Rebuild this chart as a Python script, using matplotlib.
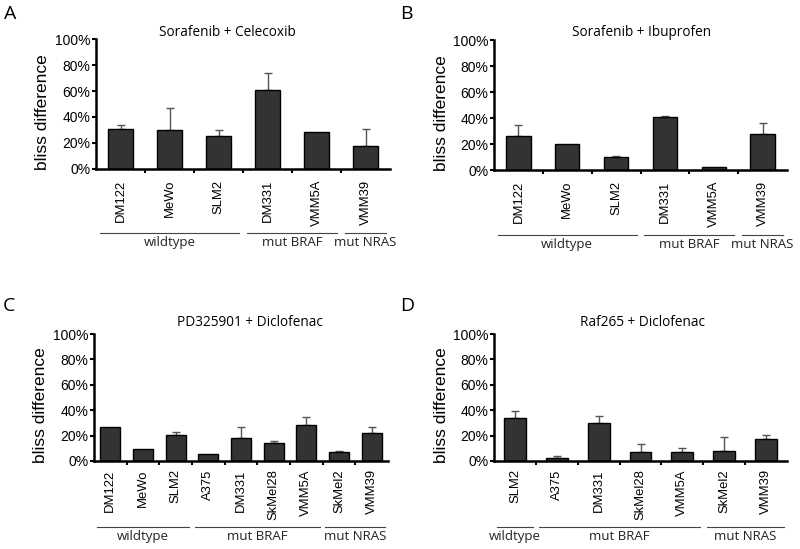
import numpy as np
import matplotlib
matplotlib.use("Agg")
import matplotlib.pyplot as plt
import matplotlib.transforms as mtransforms

plt.rcParams['font.family'] = ['Liberation Sans', 'DejaVu Sans']

# panel A: Sorafenib + Celecoxib
cells_a = ['DM122', 'MeWo', 'SLM2', 'DM331', 'VMM5A', 'VMM39']
vals_a = [31, 30, 25.5, 61, 28.5, 17.5]
err_a = [3, 17, 4.5, 12.5, 0, 13]
groups_a = [('wildtype', 0, 2), ('mut BRAF', 3, 4), ('mut NRAS', 5, 5)]

# panel B: Sorafenib + Ibuprofen
cells_b = ['DM122', 'MeWo', 'SLM2', 'DM331', 'VMM5A', 'VMM39']
vals_b = [26.5, 20, 10, 40.5, 2.5, 28]
err_b = [8, 0, 1, 1, 0, 8.5]
groups_b = [('wildtype', 0, 2), ('mut BRAF', 3, 4), ('mut NRAS', 5, 5)]

# panel C: PD325901 + Diclofenac
cells_c = ['DM122', 'MeWo', 'SLM2', 'A375', 'DM331', 'SkMel28', 'VMM5A',
           'SkMel2', 'VMM39']
vals_c = [27, 9.7, 20.5, 5.3, 18, 14.2, 28, 7.4, 22.4]
err_c = [0, 0, 2.5, 0, 9, 1.8, 6.5, 0.8, 4.5]
groups_c = [('wildtype', 0, 2), ('mut BRAF', 3, 6), ('mut NRAS', 7, 8)]

# panel D: Raf265 + Diclofenac
cells_d = ['SLM2', 'A375', 'DM331', 'SkMel28', 'VMM5A', 'SkMel2', 'VMM39']
vals_d = [34, 2, 29.7, 7.4, 7.4, 8, 17.6]
err_d = [5.5, 2, 6, 5.6, 2.6, 11, 2.7]
groups_d = [('wildtype', 0, 0), ('mut BRAF', 1, 4), ('mut NRAS', 5, 6)]

W, H = 800, 549
fig = plt.figure(figsize=(W / 100, H / 100), dpi=100)


def add_ax(left, right, top, bottom):
    return fig.add_axes([left / W, 1 - bottom / H, (right - left) / W, (bottom - top) / H])


def panel(ax, cells, vals, errs, groups, title, title_xy, letter, letter_xy,
          bar_width, line_y, pad):
    n = len(cells)
    x = np.arange(n)
    ax.bar(x, vals, bar_width, color='#333333', edgecolor='black', linewidth=1,
           zorder=2)
    errs = np.array(errs, dtype=float)
    mask = errs > 0
    ax.errorbar(x[mask], np.array(vals)[mask],
                yerr=[np.zeros(mask.sum()), errs[mask]],
                fmt='none', ecolor='#555555', elinewidth=1, capsize=3,
                capthick=1, zorder=1)
    ax.set_xlim(-0.5, n - 0.5)
    ax.set_ylim(0, 100)
    ax.set_yticks(np.arange(0, 101, 20))
    ax.set_yticklabels(['%d%%' % v for v in range(0, 101, 20)], fontsize=10)
    ax.set_xticks(x)
    ax.set_xticklabels(cells, rotation=90, fontsize=9.4)
    ax.set_xticks(np.arange(n - 1) + 0.5, minor=True)
    ax.tick_params(axis='x', which='major', length=0, pad=pad)
    ax.tick_params(axis='x', which='minor', length=3, width=1.5, direction='out')
    ax.tick_params(axis='y', length=3, width=1.5, direction='out', pad=1)
    for s in ['top', 'right']:
        ax.spines[s].set_visible(False)
    for s in ['left', 'bottom']:
        ax.spines[s].set_linewidth(1.8)
    ax.set_ylabel('bliss difference', fontsize=12.5)
    ax.yaxis.set_label_coords(-0.155, 0.44)

    trans = mtransforms.blended_transform_factory(ax.transData, ax.transAxes)
    for name, a, b in groups:
        ax.plot([a - 0.42, b + 0.42], [line_y, line_y], color='#444444', lw=0.8,
                transform=trans, clip_on=False)
        ax.text((a + b) / 2, line_y - 0.025, name, transform=trans,
                ha='center', va='top', fontsize=9.5, color='#222222',
                family=['Open Sans', 'DejaVu Sans'])

    fig.text(title_xy[0] / W, 1 - title_xy[1] / H, title, ha='center',
             va='center', fontsize=9.8, family=['Open Sans', 'DejaVu Sans'])
    fig.text(letter_xy[0] / W, 1 - letter_xy[1] / H, letter, ha='left',
             va='center', fontsize=14, family=['Open Sans', 'DejaVu Sans'])


ax_a = add_ax(96, 390, 39, 169)
panel(ax_a, cells_a, vals_a, err_a, groups_a, 'Sorafenib + Celecoxib',
      (227, 33), 'A', (4, 14), 0.5, -0.49, 8)

ax_b = add_ax(494, 787, 40, 170)
panel(ax_b, cells_b, vals_b, err_b, groups_b, 'Sorafenib + Ibuprofen',
      (642, 33), 'B', (400, 14), 0.5, -0.5, 8)

ax_c = add_ax(94, 388, 334, 461)
panel(ax_c, cells_c, vals_c, err_c, groups_c, 'PD325901 + Diclofenac',
      (250, 323), 'C', (3, 306), 0.62, -0.52, 6)

ax_d = add_ax(494, 787, 334, 461)
panel(ax_d, cells_d, vals_d, err_d, groups_d, 'Raf265 + Diclofenac',
      (643, 323), 'D', (400, 306), 0.52, -0.52, 6)

fig.savefig('out.png', dpi=100)
